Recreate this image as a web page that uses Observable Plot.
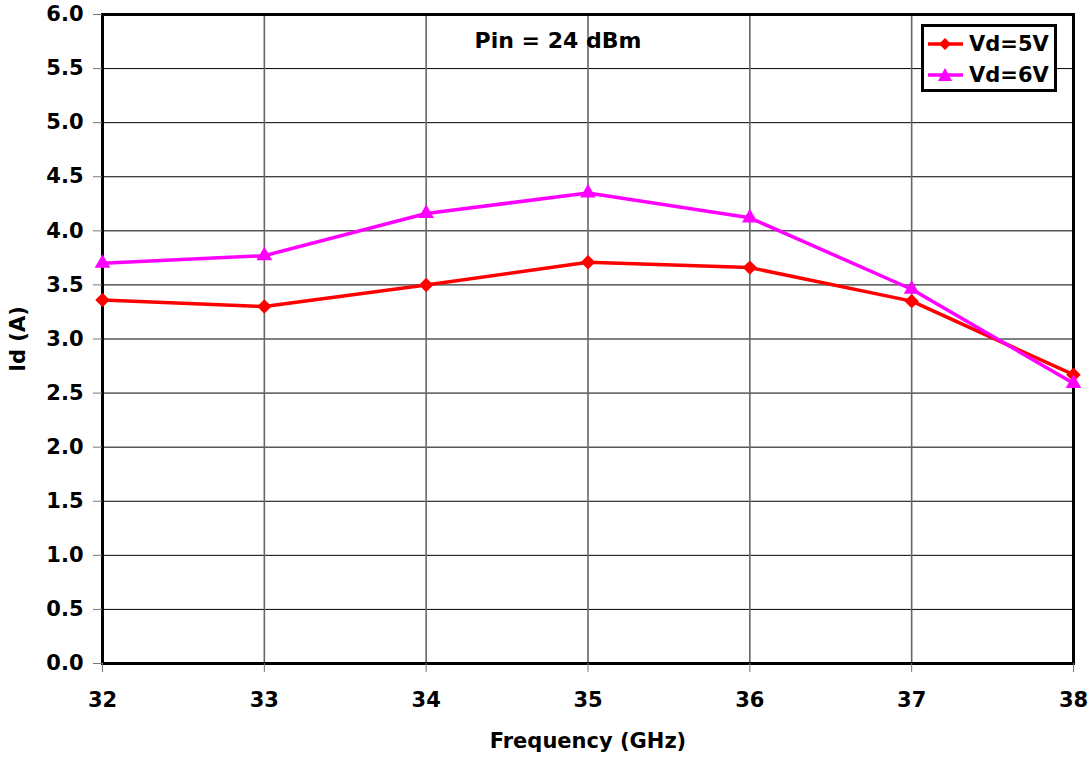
<!DOCTYPE html>
<html>
<head>
<meta charset="utf-8">
<script src="https://cdn.jsdelivr.net/npm/d3@7"></script>
<script src="https://cdn.jsdelivr.net/npm/@observablehq/plot@0.6"></script>
<style>
  html, body { margin: 0; padding: 0; background: #fff; }
  #wrap { position: relative; width: 1092px; height: 757px; font-family: "DejaVu Sans", sans-serif; }
  #legend { position: absolute; left: 921px; top: 24px; width: 130px; height: 62px; border: 3px solid #000; background: #fff; }
  .row { position: absolute; left: 0; height: 30px; display: flex; align-items: center; font-weight: bold; font-size: 21px; }
  .row svg { margin-left: 4px; margin-right: 6px; }
</style>
</head>
<body>
<div id="wrap"></div>
<script>
const frequency = [32, 33, 34, 35, 36, 37, 38];
const id5V = [3.36, 3.30, 3.50, 3.71, 3.66, 3.35, 2.67];
const id6V = [3.70, 3.77, 4.16, 4.35, 4.12, 3.46, 2.59];
const seriesNames = ["Vd=5V", "Vd=6V"];
const seriesColors = ["#ff0000", "#ff00ff"];
const yTicks = [0, 0.5, 1, 1.5, 2, 2.5, 3, 3.5, 4, 4.5, 5, 5.5, 6];
const xTicks = [32, 33, 34, 35, 36, 37, 38];
const titleText = "Pin = 24 dBm";

const d5 = frequency.map((f, i) => ({f, v: id5V[i]}));
const d6 = frequency.map((f, i) => ({f, v: id6V[i]}));

const chart = Plot.plot({
  width: 1092,
  height: 757,
  marginLeft: 102,
  marginRight: 19,
  marginTop: 14,
  marginBottom: 94,
  style: {fontFamily: "'DejaVu Sans', sans-serif", fontWeight: "bold", fontSize: "21px", color: "#000", background: "#fff"},
  x: {domain: [32, 38]},
  y: {domain: [0, 6]},
  marks: [
    Plot.gridY(yTicks, {stroke: "#000", strokeOpacity: 1, strokeWidth: 1}),
    Plot.gridX(xTicks, {stroke: "#666", strokeOpacity: 1, strokeWidth: 1.6}),
    Plot.frame({stroke: "#000", strokeWidth: 3}),
    Plot.axisY({ticks: yTicks, tickSize: 9, tickPadding: 10, stroke: "#777", tickFormat: d => d.toFixed(1), label: "Id (A)", labelAnchor: "center", labelArrow: "none", labelOffset: 92, fontSize: 21}),
    Plot.axisX({ticks: xTicks, tickSize: 9, tickPadding: 20, stroke: "#777", tickFormat: d => String(d), label: "Frequency (GHz)", labelAnchor: "center", labelArrow: "none", labelOffset: 84, fontSize: 21}),
    Plot.line(d5, {x: "f", y: "v", stroke: seriesColors[0], strokeWidth: 3.5}),
    Plot.line(d6, {x: "f", y: "v", stroke: seriesColors[1], strokeWidth: 3.5}),
    Plot.dot(d5, {x: "f", y: "v", symbol: "diamond2", fill: seriesColors[0], stroke: "none", r: 6.5}),
    Plot.dot(d6, {x: "f", y: "v", symbol: "triangle2", fill: seriesColors[1], stroke: "none", r: 7.5}),
    Plot.text([titleText], {frameAnchor: "top", dx: -30, dy: 18, text: d => d, fontSize: 22, fontWeight: "bold"})
  ]
});
const wrap = document.getElementById("wrap");
wrap.appendChild(chart);

const legend = document.createElement("div");
legend.id = "legend";
const shapes = [
  c => `<polygon points="17,4 23,10 17,16 11,10" fill="${c}"/>`,
  c => `<polygon points="17,3 24,16 10,16" fill="${c}"/>`
];
seriesNames.forEach((name, i) => {
  const row = document.createElement("div");
  row.className = "row";
  row.style.top = (2 + i * 31) + "px";
  row.innerHTML = `<svg width="35" height="20"><line x1="0" y1="10" x2="35" y2="10" stroke="${seriesColors[i]}" stroke-width="3.5"/>${shapes[i](seriesColors[i])}</svg><span>${name}</span>`;
  legend.appendChild(row);
});
wrap.appendChild(legend);
</script>
</body>
</html>
